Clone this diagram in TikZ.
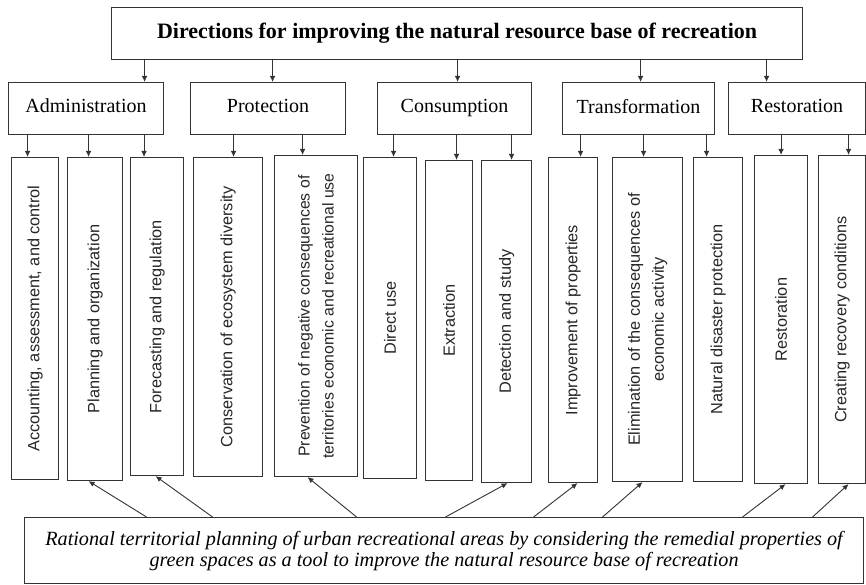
\documentclass[tikz,border=0pt]{standalone}
\usepackage{fontspec}
\setmainfont{Liberation Serif}
\newfontfamily\leaffont{Liberation Sans}
\usetikzlibrary{arrows.meta}
\newcommand{\rbox}[6]{\node[box, anchor=north west, minimum width={(#3-#1)*1pt}, minimum height={(#4-#2)*1pt}] (#5) at (#1,#2) {#6};}
\begin{document}
\begin{tikzpicture}[x=1pt,y=-1pt,
  box/.style={draw=black!80, line width=1.1pt, fill=white, inner sep=0pt},
  arr/.style={draw=black!80, line width=0.9pt, -{Latex[length=6pt,width=5.5pt]}},
  leaftxt/.style={rotate=90, font=\leaffont\fontsize{16.3}{24}\selectfont, align=center, text=black!85, inner sep=0pt},
  cattxt/.style={font=\fontsize{20}{24}\selectfont}]
\useasboundingbox (0,0) rectangle (866,585);
% title
\rbox{111}{7}{802}{59}{title}{\raisebox{3pt}{\fontsize{22}{24}\selectfont\bfseries Directions for improving the natural resource base of recreation}}
% categories
\rbox{8}{82}{163}{134}{adm}{\raisebox{5pt}{\fontsize{20}{24}\selectfont Administration}}
\rbox{190}{82}{345}{134}{prot}{\raisebox{5pt}{\fontsize{20}{24}\selectfont Protection}}
\rbox{377}{82}{531}{134}{cons}{\raisebox{5pt}{\fontsize{20}{24}\selectfont Consumption}}
\rbox{562}{82}{714}{134}{trans}{\raisebox{5pt}{\fontsize{20}{24}\selectfont Transformation}}
\rbox{728}{82}{865}{134}{rest}{\raisebox{5pt}{\fontsize{20}{24}\selectfont Restoration}}
% leaves
\rbox{11}{157}{58}{479}{l1}{}
\rbox{67}{157}{122}{480}{l2}{}
\rbox{130}{157}{183}{475}{l3}{}
\rbox{193}{157}{262}{476}{l4}{}
\rbox{274}{155}{357}{476}{l5}{}
\rbox{363}{157}{416}{478}{l6}{}
\rbox{425}{160}{472}{480}{l7}{}
\rbox{481}{160}{531}{482}{l8}{}
\rbox{548}{157}{597}{482}{l9}{}
\rbox{612}{157}{682}{481}{l10}{}
\rbox{693}{157}{742}{481}{l11}{}
\rbox{754}{155}{807}{483}{l12}{}
\rbox{818}{155}{865}{483}{l13}{}
\node[leaftxt] (t1) at (l1) {Accounting, assessment, and control};
\node[leaftxt] (t2) at (l2) {Planning and organization};
\node[leaftxt] (t3) at (l3) {Forecasting and regulation};
\node[leaftxt] (t4) at (l4) {Conservation of ecosystem diversity};
\node[leaftxt, font=\leaffont\fontsize{15.8}{24}\selectfont] (t5) at (l5) {Prevention of negative consequences of\\territories economic and recreational use};
\node[leaftxt] (t6) at (l6) {Direct use};
\node[leaftxt] (t7) at (l7) {Extraction};
\node[leaftxt] (t8) at (l8) {Detection and study};
\node[leaftxt] (t9) at (l9) {Improvement of properties};
\node[leaftxt] (t10) at (l10) {Elimination of the consequences of\\economic activity};
\node[leaftxt] (t11) at (l11) {Natural disaster protection};
\node[leaftxt] (t12) at (l12) {Restoration};
\node[leaftxt] (t13) at (l13) {Creating recovery conditions};
% bottom box
\rbox{24}{517}{863}{583}{bot}{\raisebox{3pt}{\begin{minipage}{835pt}\centering\fontsize{20.2}{21}\selectfont\itshape Rational territorial planning of urban recreational areas by considering the remedial properties of\\green spaces as a tool to improve the natural resource base of recreation\end{minipage}}}
% title -> categories
\draw[arr] ([xshift=58.5pt]adm.north |- title.south) -- ([xshift=58.5pt]adm.north);
\draw[arr] ([xshift=4.5pt]prot.north |- title.south) -- ([xshift=4.5pt]prot.north);
\draw[arr] ([xshift=3pt]cons.north |- title.south) -- ([xshift=3pt]cons.north);
\draw[arr] ([xshift=2pt]trans.north |- title.south) -- ([xshift=2pt]trans.north);
\draw[arr] ([xshift=-30.5pt]rest.north |- title.south) -- ([xshift=-30.5pt]rest.north);
% categories -> leaves
\draw[arr] ([xshift=-7.5pt]l1.north |- adm.south) -- ([xshift=-7.5pt]l1.north);
\draw[arr] ([xshift=-6.5pt]l2.north |- adm.south) -- ([xshift=-6.5pt]l2.north);
\draw[arr] ([xshift=-13pt]l3.north |- adm.south) -- ([xshift=-13pt]l3.north);
\draw[arr] ([xshift=5.5pt]l4.north |- prot.south) -- ([xshift=5.5pt]l4.north);
\draw[arr] ([xshift=-13.5pt]l5.north |- prot.south) -- ([xshift=-13.5pt]l5.north);
\draw[arr] ([xshift=3.5pt]l6.north |- cons.south) -- ([xshift=3.5pt]l6.north);
\draw[arr] ([xshift=7.5pt]l7.north |- cons.south) -- ([xshift=7.5pt]l7.north);
\draw[arr] ([xshift=5pt]l8.north |- cons.south) -- ([xshift=5pt]l8.north);
\draw[arr] ([xshift=7.5pt]l9.north |- trans.south) -- ([xshift=7.5pt]l9.north);
\draw[arr] ([xshift=-4pt]l10.north |- trans.south) -- ([xshift=-4pt]l10.north);
\draw[arr] ([xshift=-11.5pt]l11.north |- trans.south) -- ([xshift=-11.5pt]l11.north);
\draw[arr] ([xshift=0pt]l12.north |- rest.south) -- ([xshift=0pt]l12.north);
\draw[arr] ([xshift=6.5pt]l13.north |- rest.south) -- ([xshift=6.5pt]l13.north);
% bottom -> leaves
\draw[arr] ([xshift=-297.5pt]bot.north) -- ([xshift=-6.5pt]l2.south);
\draw[arr] ([xshift=-231.5pt]bot.north) -- ([xshift=-1.5pt]l3.south);
\draw[arr] ([xshift=-87.5pt]bot.north) -- ([xshift=-8.5pt]l5.south);
\draw[arr] ([xshift=1.5pt]bot.north) -- ([xshift=1pt]l8.south);
\draw[arr] ([xshift=89.5pt]bot.north) -- ([xshift=4.5pt]l9.south);
\draw[arr] ([xshift=158.5pt]bot.north) -- ([xshift=-5pt]l10.south);
\draw[arr] ([xshift=298.5pt]bot.north) -- ([xshift=4.5pt]l12.south);
\draw[arr] ([xshift=368.5pt]bot.north) -- ([xshift=6.5pt]l13.south);
\end{tikzpicture}
\end{document}
